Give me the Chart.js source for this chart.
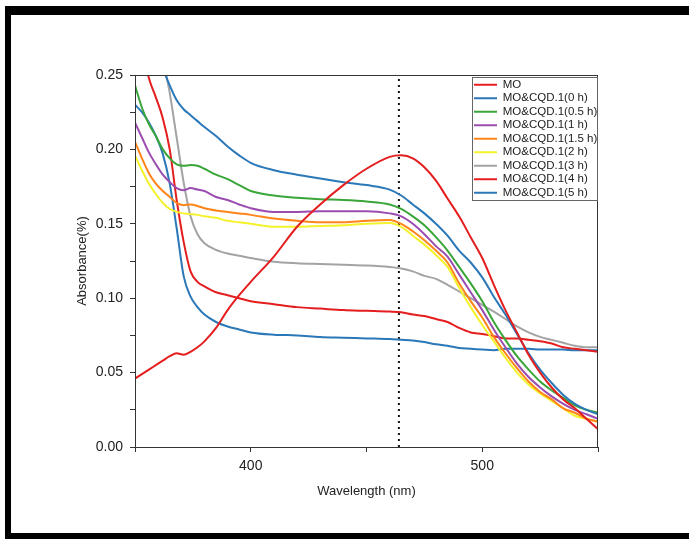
<!DOCTYPE html>
<html>
<head>
<meta charset="utf-8">
<script src="https://cdn.jsdelivr.net/npm/chart.js@4.4.1/dist/chart.umd.min.js"></script>
<style>
  html, body { margin: 0; padding: 0; background: #fff; overflow: hidden; }
  #wrap { position: relative; width: 689px; height: 539px; overflow: hidden; }
  #frame { position: absolute; left: 5px; top: 6px; width: 678px; height: 518px;
           border-top: 9px solid #000; border-left: 6px solid #000; border-bottom: 6px solid #000;
           pointer-events: none; }
  canvas { position: absolute; left: 0; top: 0; }
</style>
</head>
<body>
<div id="wrap">
  <div id="frame"></div>
  <canvas id="uvChart" width="689" height="539"></canvas>
</div>
<script>
// wavelength grid (nm)
const wavelength = [350, 353, 356, 359, 362, 365, 368, 371, 374, 377, 380, 385, 390, 395, 400,
  410, 420, 430, 440, 450, 460, 465, 470, 475, 480, 485, 490, 495, 500, 505, 510, 515, 520,
  525, 530, 535, 540, 545, 550];

// absorbance
const absMO = [0.046, 0.049, 0.052, 0.055, 0.058, 0.061, 0.063, 0.062, 0.064, 0.067, 0.071, 0.080, 0.092, 0.102, 0.111,
  0.128, 0.148, 0.163, 0.176, 0.187, 0.195, 0.196, 0.194, 0.188, 0.179, 0.167, 0.155, 0.141, 0.127, 0.109, 0.092, 0.077, 0.062,
  0.050, 0.040, 0.032, 0.026, 0.019, 0.012];
const abs0h = [0.320, 0.300, 0.285, 0.270, 0.255, 0.243, 0.233, 0.227, 0.223, 0.219, 0.215, 0.209, 0.202, 0.196, 0.191,
  0.186, 0.183, 0.1805, 0.178, 0.176, 0.173, 0.169, 0.163, 0.157, 0.150, 0.142, 0.132, 0.124, 0.114, 0.101, 0.089, 0.076, 0.063,
  0.052, 0.043, 0.035, 0.029, 0.025, 0.022];
const abs05h = [0.243, 0.228, 0.217, 0.209, 0.200, 0.194, 0.190, 0.189, 0.1895, 0.189, 0.187, 0.183, 0.180, 0.176, 0.172,
  0.169, 0.1675, 0.1665, 0.166, 0.165, 0.163, 0.160, 0.155, 0.149, 0.141, 0.132, 0.121, 0.110, 0.098, 0.084, 0.072, 0.061, 0.052,
  0.044, 0.038, 0.033, 0.028, 0.025, 0.023];
const abs1h = [0.218, 0.208, 0.198, 0.190, 0.183, 0.178, 0.174, 0.1725, 0.174, 0.173, 0.172, 0.168, 0.166, 0.163, 0.1605,
  0.158, 0.158, 0.1585, 0.1585, 0.1585, 0.157, 0.155, 0.150, 0.143, 0.135, 0.128, 0.116, 0.104, 0.092, 0.079, 0.067, 0.056, 0.047,
  0.040, 0.034, 0.029, 0.025, 0.022, 0.019];
const abs15h = [0.205, 0.194, 0.184, 0.177, 0.172, 0.168, 0.164, 0.1625, 0.163, 0.162, 0.1605, 0.159, 0.158, 0.157, 0.156,
  0.1535, 0.152, 0.151, 0.151, 0.152, 0.1525, 0.150, 0.145, 0.139, 0.132, 0.124, 0.110, 0.098, 0.087, 0.074, 0.063, 0.053, 0.044,
  0.037, 0.032, 0.026, 0.023, 0.019, 0.017];
const abs2h = [0.196, 0.186, 0.177, 0.170, 0.164, 0.160, 0.158, 0.157, 0.1565, 0.156, 0.155, 0.154, 0.152, 0.151, 0.150,
  0.148, 0.148, 0.1485, 0.149, 0.150, 0.1505, 0.148, 0.142, 0.136, 0.129, 0.121, 0.107, 0.094, 0.082, 0.071, 0.060, 0.050, 0.042,
  0.036, 0.031, 0.026, 0.021, 0.019, 0.017];
const abs3h = [0.400, 0.370, 0.340, 0.300, 0.262, 0.238, 0.208, 0.178, 0.155, 0.143, 0.137, 0.1325, 0.130, 0.1285, 0.127,
  0.1245, 0.1235, 0.123, 0.1225, 0.122, 0.121, 0.120, 0.118, 0.115, 0.113, 0.109, 0.1045, 0.100, 0.0955, 0.091, 0.086, 0.081, 0.077,
  0.074, 0.072, 0.070, 0.068, 0.067, 0.067];
const abs4h = [0.300, 0.270, 0.248, 0.235, 0.221, 0.200, 0.166, 0.138, 0.118, 0.111, 0.108, 0.104, 0.102, 0.100, 0.098,
  0.096, 0.094, 0.093, 0.092, 0.0915, 0.091, 0.0905, 0.089, 0.088, 0.086, 0.084, 0.080, 0.077, 0.076, 0.0745, 0.073, 0.073, 0.072,
  0.071, 0.0695, 0.067, 0.066, 0.065, 0.064];
const abs5h = [0.230, 0.225, 0.218, 0.209, 0.197, 0.177, 0.147, 0.115, 0.101, 0.094, 0.089, 0.084, 0.081, 0.079, 0.077,
  0.0755, 0.075, 0.074, 0.0735, 0.073, 0.0725, 0.072, 0.0715, 0.0705, 0.069, 0.068, 0.0665, 0.066, 0.0655, 0.065, 0.066, 0.066, 0.066,
  0.0655, 0.0655, 0.0655, 0.065, 0.065, 0.065];

const seriesNames = ['MO', 'MO&CQD.1(0 h)', 'MO&CQD.1(0.5 h)', 'MO&CQD.1(1 h)', 'MO&CQD.1(1.5 h)',
  'MO&CQD.1(2 h)', 'MO&CQD.1(3 h)', 'MO&CQD.1(4 h)', 'MO&CQD.1(5 h)'];
const seriesValues = [absMO, abs0h, abs05h, abs1h, abs15h, abs2h, abs3h, abs4h, abs5h];
const seriesColors = ['#e41e1e', '#2b78b8', '#3aa63a', '#9a4cb0', '#ff8419',
  '#f4f22a', '#a3a3a3', '#e41e1e', '#2b78b8'];

const peakLine = 464;   // dotted marker (nm)

const fontFam = '"Liberation Sans", Arial, sans-serif';

const datasets = seriesNames.map((name, i) => ({
  label: name,
  data: wavelength.map((w, j) => ({ x: w, y: seriesValues[i][j] })),
  borderColor: seriesColors[i],
  backgroundColor: seriesColors[i],
  borderWidth: 2,
  pointRadius: 0,
  cubicInterpolationMode: 'monotone',
  fill: false
}));

datasets.push({
  label: '',
  data: [{ x: peakLine, y: 0 }, { x: peakLine, y: 0.25 }],
  borderColor: '#111',
  borderWidth: 2,
  borderDash: [2, 4],
  pointRadius: 0,
  fill: false
});

// move legend to top right of plot and put a box round it, plus the plot frame
const boxPlugin = {
  id: 'boxPlugin',
  afterLayout(chart) {
    const lg = chart.legend;
    const a = chart.chartArea;
    const dx = a.right - 126 - lg.left;
    lg.left += dx; lg.right += dx;
    lg.top = a.top + 2;
    lg.bottom = lg.top + lg.height;
  },
  afterDraw(chart) {
    const a = chart.chartArea;
    const lg = chart.legend;
    const ctx = chart.ctx;
    ctx.save();
    ctx.strokeStyle = '#333';
    ctx.lineWidth = 1;
    ctx.strokeRect(a.left + 0.5, a.top + 0.5, a.right - a.left - 1, a.bottom - a.top);
    ctx.strokeStyle = '#666';
    ctx.strokeRect(lg.left + 0.5, a.top + 2.5, 125, 123);
    ctx.restore();
  }
};

new Chart(document.getElementById('uvChart').getContext('2d'), {
  type: 'line',
  data: { datasets: datasets },
  options: {
    responsive: false,
    animation: false,
    devicePixelRatio: 1,
    layout: { padding: { left: 70, top: 75, right: 91, bottom: 40 } },
    scales: {
      x: {
        type: 'linear', min: 350, max: 550,
        afterFit: s => { s.height = 52; },
        ticks: {
          stepSize: 50, autoSkip: false, maxRotation: 0, padding: 6, color: '#222',
          font: { family: fontFam, size: 14 },
          callback: v => (v % 100 === 0 ? String(v) : '')
        },
        grid: { drawOnChartArea: false, tickLength: 5, color: '#333' },
        border: { color: '#333', width: 1 },
        title: { display: true, text: 'Wavelength (nm)', color: '#222',
                 font: { family: fontFam, size: 13 }, padding: { top: 0, bottom: 0 } }
      },
      y: {
        min: 0, max: 0.25,
        afterFit: s => { s.width = 65; },
        ticks: {
          stepSize: 0.025, autoSkip: false, padding: 7, color: '#222',
          font: { family: fontFam, size: 14 },
          callback: v => (Math.round(v * 1000) % 50 === 0 ? v.toFixed(2) : '')
        },
        grid: { drawOnChartArea: false, tickLength: 5, color: '#333' },
        border: { color: '#333', width: 1 },
        title: { display: true, text: 'Absorbance(%)', color: '#222',
                 font: { family: fontFam, size: 13 }, padding: { top: 5, bottom: 0 } }
      }
    },
    plugins: {
      legend: {
        position: 'chartArea',
        align: 'start',
        labels: {
          usePointStyle: true, pointStyle: 'line', pointStyleWidth: 23,
          padding: 2, color: '#222',
          font: { family: fontFam, size: 11.5 },
          filter: item => item.text !== ''
        }
      },
      tooltip: { enabled: false }
    }
  },
  plugins: [boxPlugin]
});
</script>
</body>
</html>
